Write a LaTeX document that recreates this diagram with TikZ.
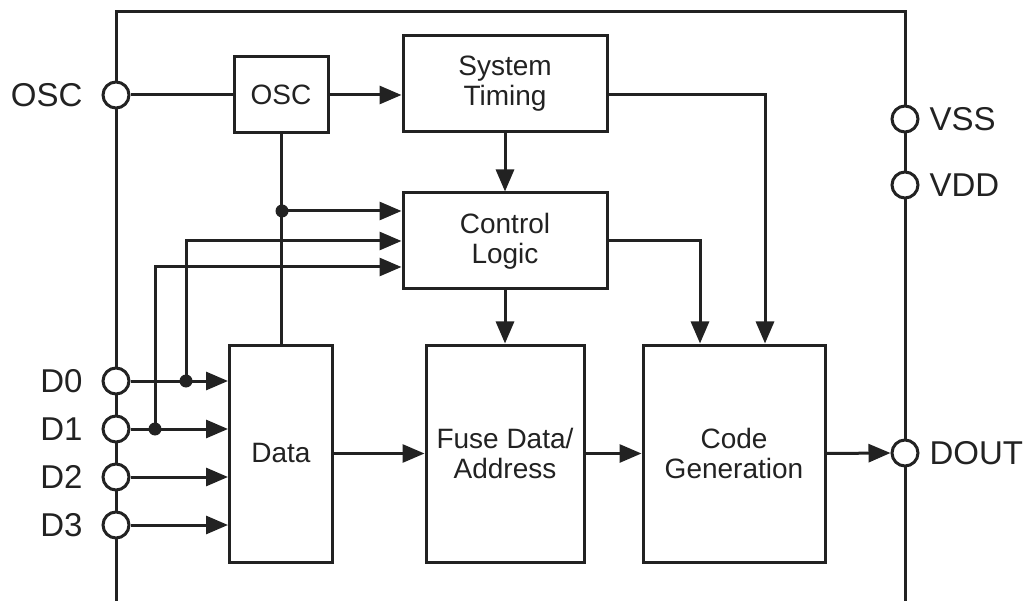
\documentclass[tikz,border=0pt]{standalone}
\usepackage{fontspec}
\setmainfont{Liberation Sans}
\usetikzlibrary{arrows.meta,calc}
\definecolor{ink}{HTML}{222222}
\begin{document}
\begin{tikzpicture}[x=1pt,y=-1pt,
  line width=3pt, draw=ink, ink,
  box/.style={draw=ink, fill=white, rectangle, inner sep=0pt, align=center,
    font=\fontsize{28}{30}\selectfont},
  pin/.style={draw=ink, fill=white, circle, minimum size=26pt, inner sep=0pt},
  pinlabel/.style={inner sep=0pt, font=\fontsize{33}{33}\selectfont},
  arr/.style={-{Triangle[length=22pt,width=18pt]}},
  jdot/.style={fill=ink, circle, minimum size=13pt, inner sep=0pt}]
\useasboundingbox (0,0) rectangle (1030,601);
% frame
\draw (116,601) -- (116,12) -- (905,12) -- (905,601);
% blocks
\node[box, minimum width=94pt, minimum height=76pt] (osc) at (281,95) {OSC};
\node[box, minimum width=204pt, minimum height=96pt] (st) at (505,84) {System\\Timing};
\node[box, minimum width=204pt, minimum height=96pt] (cl) at (505,241) {Control\\Logic};
\node[box, minimum width=103pt, minimum height=217pt] (data) at (281,453.5) {Data};
\node[box, minimum width=158pt, minimum height=217pt] (fuse) at (505,453.5) {Fuse Data/\\Address};
\node[box, minimum width=182pt, minimum height=217pt] (cg) at (734,453.5) {Code\\Generation};
% pins
\node[pin] (poscin) at (116,95) {};
\node[pin] (pd0) at (116,381) {};
\node[pin] (pd1) at (116,429) {};
\node[pin] (pd2) at (116,477) {};
\node[pin] (pd3) at (116,525) {};
\node[pin] (pvss) at (905,119) {};
\node[pin] (pvdd) at (905,185) {};
\node[pin] (pdout) at (905,453) {};
% pin labels
\node[pinlabel, anchor=east] (loscin) at (84,95) {OSC};
\node[pinlabel, anchor=east] (ld0) at (84,381) {D0};
\node[pinlabel, anchor=east] (ld1) at (84,429) {D1};
\node[pinlabel, anchor=east] (ld2) at (84,477) {D2};
\node[pinlabel, anchor=east] (ld3) at (84,525) {D3};
\node[pinlabel, anchor=west] (lvss) at (928,119) {VSS};
\node[pinlabel, anchor=west] (lvdd) at (928,185) {VDD};
\node[pinlabel, anchor=west] (ldout) at (928,453) {DOUT};
% junctions
\coordinate (j0) at (282,211);
\coordinate (jd0) at (186,381);
\coordinate (jd1) at (155,429);
% connectors
\draw (poscin.east) -- (osc.west);
\draw[arr] (osc.east) -- (osc.east -| st.west);
\draw[arr] (osc.east -| st.east) -| ([xshift=31pt]cg.north);
\draw[arr] (st.south) -- (cl.north);
\draw[arr] (cl.east) -| ([xshift=-34pt]cg.north);
\draw[arr] (cl.south) -- (fuse.north);
\draw (osc.south) -- (osc.south |- data.north);
\draw[arr] (j0) -- (j0 -| cl.west);
\draw[arr] (jd0) |- (cl.west);
\draw[arr] (jd1) |- ([yshift=-26pt]cl.west);
\draw[arr] (pd0.east) -- (pd0.east -| data.west);
\draw[arr] (pd1.east) -- (pd1.east -| data.west);
\draw[arr] (pd2.east) -- (pd2.east -| data.west);
\draw[arr] (pd3.east) -- (pd3.east -| data.west);
\draw[arr] (data.east) -- (fuse.west);
\draw[arr] (fuse.east) -- (cg.west);
\draw[arr] (cg.east) -- (pdout.west);
\node[jdot] (dj0) at (j0) {};
\node[jdot] (djd0) at (jd0) {};
\node[jdot] (djd1) at (jd1) {};
\end{tikzpicture}
\end{document}
